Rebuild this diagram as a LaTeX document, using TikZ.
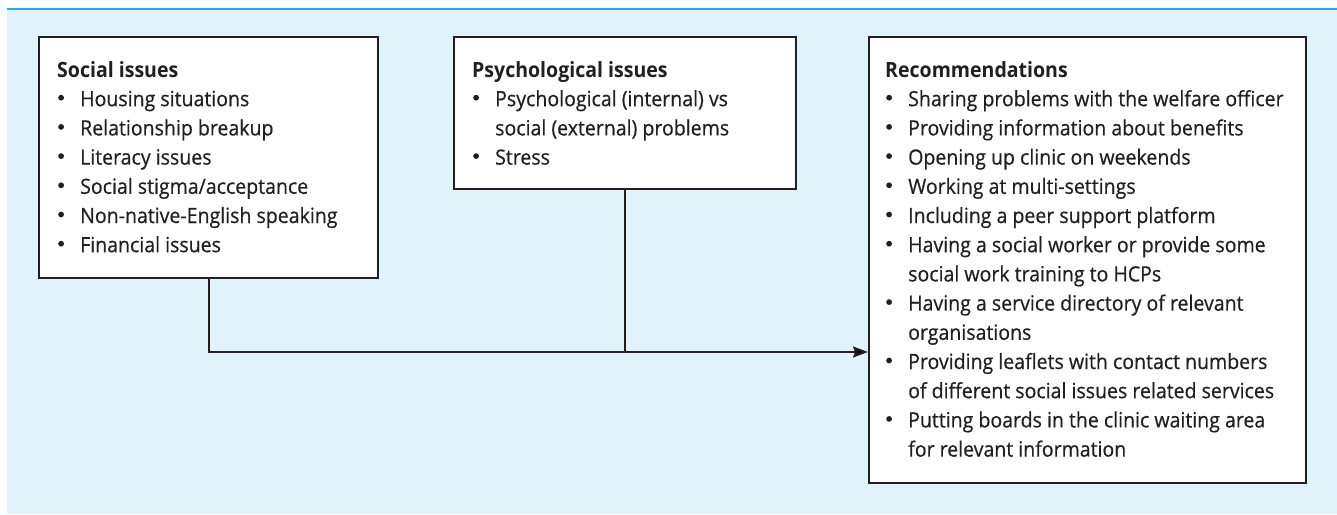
\documentclass[tikz,border=0pt]{standalone}
\usepackage{fontspec}
\setmainfont[FakeStretch=0.93, UprightFeatures={FakeBold=0.5}]{Open Sans}
\usetikzlibrary{arrows.meta}
\definecolor{bgblue}{HTML}{E0F2FA}
\definecolor{topline}{HTML}{29ABE2}
\definecolor{ink}{HTML}{231F20}
\newcommand{\bul}{\makebox[23pt][l]{\hspace{1pt}\raisebox{5.6pt}{\tikz\fill[ink] (0,0) circle (2.9pt);}}}
\newcommand{\cont}{\hspace*{23pt}}
\tikzset{
  boxnode/.style={draw=ink, line width=2.2pt, fill=white, inner sep=0pt, anchor=north west},
  txt/.style={inner sep=0pt, anchor=base west, text=ink, font=\fontsize{21}{29.2}\selectfont},
  conn/.style={draw=ink, line width=2pt},
}
\begin{document}
\begin{tikzpicture}[x=1pt,y=-1pt]
\useasboundingbox (0,0) rectangle (1337,514);
\fill[bgblue] (7,9) rectangle (1337,514);
\fill[topline] (7,7.9) rectangle (1337,10.2);

\node[boxnode, minimum width=339pt, minimum height=241pt] (soc) at (38,36) {};
\node[boxnode, minimum width=342pt, minimum height=152pt] (psy) at (453,36) {};
\node[boxnode, minimum width=437pt, minimum height=446pt] (rec) at (868,36) {};

\node[txt] (socT) at (57,77) {\begin{tabular}[t]{@{}l@{}}
\textbf{Social issues}\\
\bul Housing situations\\
\bul Relationship breakup\\
\bul Literacy issues\\
\bul Social stigma/acceptance\\
\bul Non-native-English speaking\\
\bul Financial issues
\end{tabular}};

\node[txt] (psyT) at (472,77) {\begin{tabular}[t]{@{}l@{}}
\textbf{Psychological issues}\\
\bul Psychological (internal) vs\\
\cont social (external) problems\\
\bul Stress
\end{tabular}};

\node[txt] (recT) at (885,77) {\begin{tabular}[t]{@{}l@{}}
\textbf{Recommendations}\\
\bul Sharing problems with the welfare officer\\
\bul Providing information about benefits\\
\bul Opening up clinic on weekends\\
\bul Working at multi-settings\\
\bul Including a peer support platform\\
\bul Having a social worker or provide some\\
\cont social work training to HCPs\\
\bul Having a service directory of relevant\\
\cont organisations\\
\bul Providing leaflets with contact numbers\\
\cont of different social issues related services\\
\bul Putting boards in the clinic waiting area\\
\cont for relevant information
\end{tabular}};

\coordinate (j) at (psy.south |- 0,352);
\draw[conn] (psy.south) -- (j);
\draw[conn, -{Stealth[length=15pt,width=11pt,inset=2pt]}] (soc.south) |- (rec.west |- j);
\end{tikzpicture}
\end{document}
